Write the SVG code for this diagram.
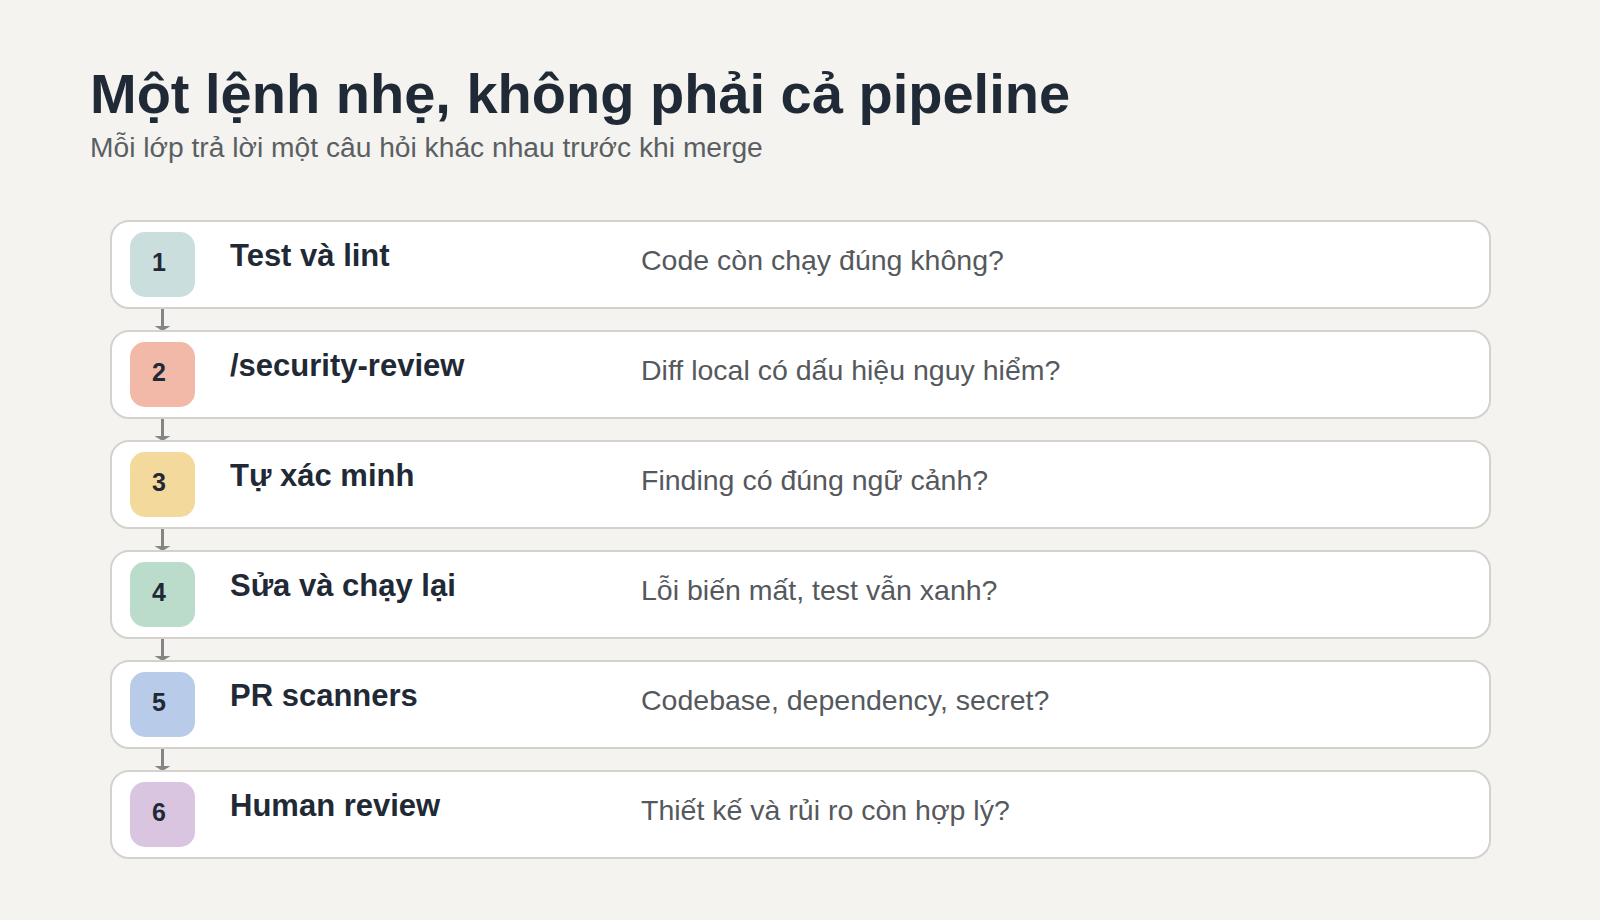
<svg xmlns="http://www.w3.org/2000/svg" width="1600" height="920" viewBox="0 0 1600 920">
<style>
.title{font-family:"Liberation Sans",Arial,sans-serif;font-weight:bold;font-size:56px;fill:#1f2a36}
.sub{font-family:"Liberation Sans",Arial,sans-serif;font-size:28.2px;fill:#5a5f63}
.card{fill:#ffffff;stroke:#d3d2cc;stroke-width:2}
.badge-num{font-family:"Liberation Sans",Arial,sans-serif;font-weight:bold;font-size:25px;fill:#1f2a36;text-anchor:middle}
.name{font-family:"Liberation Sans",Arial,sans-serif;font-weight:bold;font-size:31px;fill:#1f2a36}
.q{font-family:"Liberation Sans",Arial,sans-serif;font-size:28.5px;fill:#55595d}
.conn{stroke:#858585;stroke-width:3;fill:none}
.head{fill:#858585}
</style>
<rect width="1600" height="920" fill="#f4f3ef"/>
<text class="title" x="90" y="113">Một lệnh nhẹ, không phải cả pipeline</text>
<text class="sub" x="90" y="157">Mỗi lớp trả lời một câu hỏi khác nhau trước khi merge</text>

<g id="connectors">
<path class="conn" d="M162.5,309 V326"/>
<path class="head" d="M154.5,326 H170.5 L162.5,331 Z"/>
<path class="conn" d="M162.5,419 V436"/>
<path class="head" d="M154.5,436 H170.5 L162.5,441 Z"/>
<path class="conn" d="M162.5,529 V546"/>
<path class="head" d="M154.5,546 H170.5 L162.5,551 Z"/>
<path class="conn" d="M162.5,639 V656"/>
<path class="head" d="M154.5,656 H170.5 L162.5,661 Z"/>
<path class="conn" d="M162.5,749 V766"/>
<path class="head" d="M154.5,766 H170.5 L162.5,771 Z"/>
</g>

<g id="step1">
<rect class="card" x="111" y="221" width="1379" height="87" rx="18"/>
<rect x="130" y="232" width="65" height="65" rx="15" fill="#c9dedd"/>
<text class="badge-num" x="159" y="271">1</text>
<text class="name" x="230" y="266">Test và lint</text>
<text class="q" x="641" y="270">Code còn chạy đúng không?</text>
</g>
<g id="step2">
<rect class="card" x="111" y="331" width="1379" height="87" rx="18"/>
<rect x="130" y="342" width="65" height="65" rx="15" fill="#f2b9a8"/>
<text class="badge-num" x="159" y="381">2</text>
<text class="name" x="230" y="376">/security-review</text>
<text class="q" x="641" y="380">Diff local có dấu hiệu nguy hiểm?</text>
</g>
<g id="step3">
<rect class="card" x="111" y="441" width="1379" height="87" rx="18"/>
<rect x="130" y="452" width="65" height="65" rx="15" fill="#f3d99c"/>
<text class="badge-num" x="159" y="491">3</text>
<text class="name" x="230" y="486">Tự xác minh</text>
<text class="q" x="641" y="490">Finding có đúng ngữ cảnh?</text>
</g>
<g id="step4">
<rect class="card" x="111" y="551" width="1379" height="87" rx="18"/>
<rect x="130" y="562" width="65" height="65" rx="15" fill="#bcdccb"/>
<text class="badge-num" x="159" y="601">4</text>
<text class="name" x="230" y="596">Sửa và chạy lại</text>
<text class="q" x="641" y="600">Lỗi biến mất, test vẫn xanh?</text>
</g>
<g id="step5">
<rect class="card" x="111" y="661" width="1379" height="87" rx="18"/>
<rect x="130" y="672" width="65" height="65" rx="15" fill="#b8cbe8"/>
<text class="badge-num" x="159" y="711">5</text>
<text class="name" x="230" y="706">PR scanners</text>
<text class="q" x="641" y="710">Codebase, dependency, secret?</text>
</g>
<g id="step6">
<rect class="card" x="111" y="771" width="1379" height="87" rx="18"/>
<rect x="130" y="782" width="65" height="65" rx="15" fill="#d9c5e0"/>
<text class="badge-num" x="159" y="821">6</text>
<text class="name" x="230" y="816">Human review</text>
<text class="q" x="641" y="820">Thiết kế và rủi ro còn hợp lý?</text>
</g>
</svg>
